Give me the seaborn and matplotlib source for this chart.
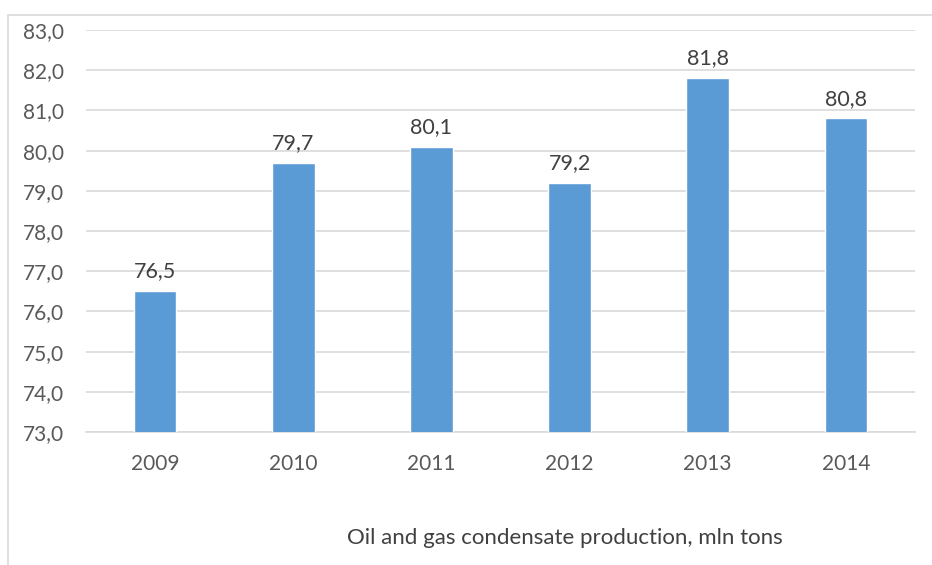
import matplotlib
matplotlib.use("Agg")
import matplotlib.pyplot as plt
import seaborn as sns
import pandas as pd
from matplotlib.lines import Line2D

years = ["2009", "2010", "2011", "2012", "2013", "2014"]
production = [76.5, 79.7, 80.1, 79.2, 81.8, 80.8]
y_ticks = [73, 74, 75, 76, 77, 78, 79, 80, 81, 82, 83]
caption = "Oil and gas condensate production, mln tons"

sns.set_theme(style="white")
plt.rcParams["font.family"] = ["Lato", "DejaVu Sans"]

df = pd.DataFrame({"year": years, "value": production})

fig = plt.figure(figsize=(9.32, 5.65), dpi=100)
ax = fig.add_axes([86 / 932, 1 - 432 / 565, (915 - 86) / 932, (432 - 30) / 565])

sns.barplot(data=df, x="year", y="value", color="#5B9BD5", saturation=1,
            width=0.31, ax=ax, zorder=3)

ax.set_ylim(73, 83)
ax.set_yticks(y_ticks)
ax.set_yticklabels([f"{v:.1f}".replace(".", ",") for v in y_ticks])
ax.yaxis.grid(True, color="#D9D9D9", linewidth=1.2, zorder=0)
ax.set_axisbelow(True)
for side in ["top", "right", "left"]:
    ax.spines[side].set_visible(False)
ax.spines["bottom"].set_color("#D9D9D9")
ax.spines["bottom"].set_linewidth(1.2)
ax.tick_params(axis="both", length=0, labelsize=15, labelcolor="#595959")
ax.tick_params(axis="y", pad=16)
ax.tick_params(axis="x", pad=16)
ax.set_xlabel("")
ax.set_ylabel("")

ax.bar_label(ax.containers[0], fmt=lambda v: f"{v:.1f}".replace(".", ","),
             padding=7, fontsize=15.5, color="#404040")

fig.text(565 / 932, 1 - 538 / 565, caption, ha="center", va="center",
         fontsize=16, color="#404040")

# chart frame (top and left edges)
fig.add_artist(Line2D([8 / 932, 1.0], [1 - 15 / 565] * 2, transform=fig.transFigure,
                      color="#D9D9D9", linewidth=1.2))
fig.add_artist(Line2D([8 / 932] * 2, [0.0, 1 - 15 / 565], transform=fig.transFigure,
                      color="#D9D9D9", linewidth=1.2))

fig.savefig("out.png", dpi=100)
